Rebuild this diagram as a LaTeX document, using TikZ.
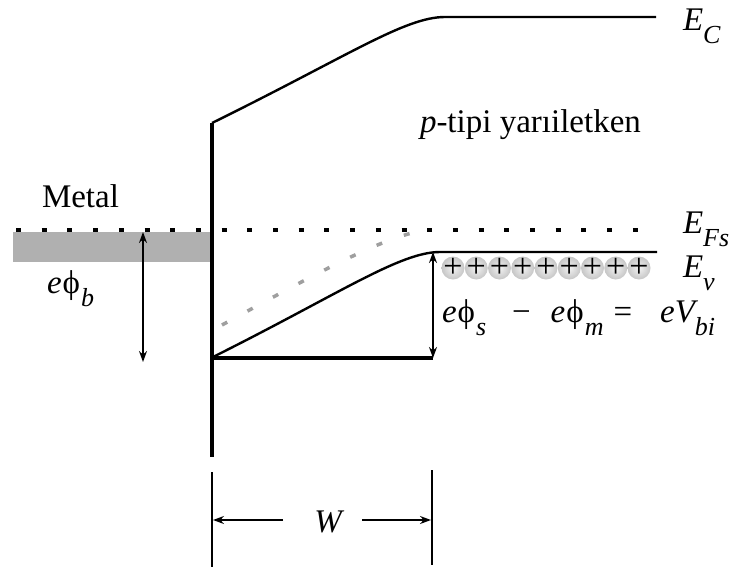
\documentclass[tikz,border=0pt]{standalone}
\usepackage{fontspec}
\setmainfont{Liberation Serif}
\usetikzlibrary{arrows.meta}
\newcommand\sbx[1]{\raisebox{-0.4em}{\fontsize{26}{26}\selectfont\itshape #1}}
\newcommand\ph{\upshape\hspace{1pt}ϕ\hspace{1pt}}
\begin{document}
\begin{tikzpicture}[x=1pt,y=-1pt,
  font=\fontsize{33}{38}\selectfont,
  band/.style={line width=2.4pt},
  thickline/.style={line width=4pt},
  fermi/.style={line width=4.5pt, dash pattern=on 5pt off 20.7pt},
  fermigray/.style={line width=3.5pt, gray!75, dash pattern=on 6pt off 23pt},
  dimline/.style={line width=1.4pt},
  dblarrow/.style={line width=1.4pt, {Stealth[length=11pt,width=8pt]}-{Stealth[length=11pt,width=8pt]}},
  onearrow/.style={line width=1.4pt, -{Stealth[length=11pt,width=8pt]}},
  lbl/.style={anchor=base west, inner sep=0pt, outer sep=0pt},
  hole/.style={circle, inner sep=0pt, minimum size=23pt, shading=radial, inner color=gray!10, outer color=gray!45},
  plus/.style={inner sep=0pt, font=\fontsize{34}{34}\selectfont}
]
\useasboundingbox (0,0) rectangle (740,571);

% metal
\fill[gray!62] (13,232) rectangle (212,262);

% key points
\coordinate (itop) at (212,123);
\coordinate (ibot) at (212,457);
\coordinate (ecs) at (212,123);
\coordinate (ece) at (445,17);
\coordinate (ecr) at (656,17);
\coordinate (evs) at (213,357);
\coordinate (eve) at (440,252);
\coordinate (evr) at (657,252);
\coordinate (fl) at (16,230);
\coordinate (fr) at (642,230);
\coordinate (gs) at (222,325);
\coordinate (ge) at (430,230);

% Fermi level
\draw[fermi] (fl) -- (fr);
% gray dashed original band
\draw[fermigray] (gs) .. controls (310,277) and (390,232) .. (ge);

% conduction band
\draw[band] (ecs) .. controls (350,55) and (405,17) .. (ece) -- (ecr);
% valence band
\draw[band] (evs) .. controls (340,293.5) and (400,252) .. (eve) -- (evr);

% interface and bottom
\draw[thickline] (itop) -- (ibot);
\coordinate (bw) at (433,358);
\coordinate (bl) at (212,358);
\draw[thickline] (bl) -- (bw);

% holes
\foreach \i in {0,...,8}{
  \node[hole] (h\i) at ({453+\i*23.25},268) {};
  \node[plus] (p\i) at (h\i) {+};
}

% arrows
\coordinate (pbt) at (143,232);
\coordinate (pbb) at (143,362);
\draw[dblarrow] (pbt) -- (pbb);
\coordinate (vt) at (433,252);
\draw[dblarrow] (vt) -- (bw);

% W dimension
\coordinate (wl1) at (212,472);
\coordinate (wl2) at (212,567);
\coordinate (wr1) at (432,470);
\coordinate (wr2) at (432,565);
\draw[dimline] (wl1) -- (wl2);
\draw[dimline] (wr1) -- (wr2);
\node[anchor=base] (W) at (328,532) {\itshape W};
\coordinate (wla) at (283,520);
\coordinate (wlt) at (213,520);
\coordinate (wra) at (362,520);
\coordinate (wrt) at (431,520);
\draw[onearrow] (wla) -- (wlt);
\draw[onearrow] (wra) -- (wrt);

% labels
\node[lbl] (lec) at (683,30) {\itshape E\sbx{C}};
\node[lbl] (lp) at (420,132) {\itshape p\upshape -tipi yarıiletken};
\node[lbl] (lmetal) at (42,207) {Metal};
\node[lbl] (lef) at (683,233) {\itshape E\sbx{Fs}};
\node[lbl] (lev) at (683,277) {\itshape E\sbx{v}};
\node[lbl] (lphib) at (47,293) {\itshape e\ph\sbx{b}};
\node[lbl] (lvbi) at (442,322) {\itshape e\ph\sbx{s}\hspace{26pt}−\hspace{20pt}\itshape e\ph\sbx{m}\hspace{10pt}=\hspace{28pt}\itshape eV\sbx{bi}};
\end{tikzpicture}
\end{document}
